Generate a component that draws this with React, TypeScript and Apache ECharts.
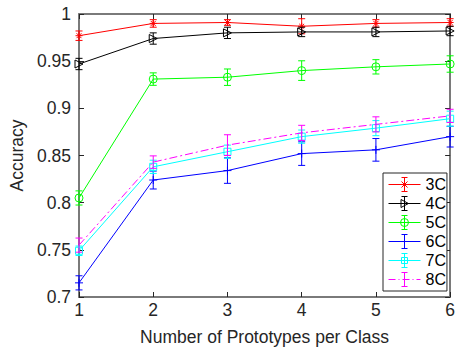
import React, { useEffect, useRef } from "react";
import * as echarts from "echarts";

const xValues = [1, 2, 3, 4, 5, 6];
const seriesNames = ["3C", "4C", "5C", "6C", "7C", "8C"];

const acc3C = [0.977, 0.99, 0.991, 0.987, 0.99, 0.991];
const err3C = [0.005, 0.004, 0.003, 0.008, 0.004, 0.004];
const acc4C = [0.947, 0.974, 0.98, 0.981, 0.981, 0.982];
const err4C = [0.006, 0.006, 0.006, 0.005, 0.005, 0.005];
const acc5C = [0.805, 0.931, 0.933, 0.94, 0.944, 0.947];
const err5C = [0.0075, 0.0066, 0.0087, 0.0104, 0.0076, 0.0087];
const acc6C = [0.715, 0.824, 0.834, 0.852, 0.856, 0.87];
const err6C = [0.0075, 0.0095, 0.0135, 0.0125, 0.012, 0.011];
const acc7C = [0.749, 0.838, 0.854, 0.87, 0.879, 0.889];
const err7C = [0.005, 0.007, 0.007, 0.007, 0.008, 0.008];
const acc8C = [0.755, 0.843, 0.861, 0.874, 0.883, 0.892];
const err8C = [0.0075, 0.0066, 0.011, 0.008, 0.008, 0.007];

const accAll = [acc3C, acc4C, acc5C, acc6C, acc7C, acc8C];
const errAll = [err3C, err4C, err5C, err6C, err7C, err8C];
const colors = ["#ff0000", "#000000", "#00ff00", "#0000ff", "#00ffff", "#ff00ff"];

const markerPaths = [
  "path://M0,5 L10,5 M5,0 L5,10 M1.5,1.5 L8.5,8.5 M8.5,1.5 L1.5,8.5",
  "path://M0,0 L10,5 L0,10 Z",
  "path://M10,5 A5,5 0 1 1 0,5 A5,5 0 1 1 10,5 Z",
  "path://M0,5 L10,5 M5,0 L5,10",
  "path://M0,0 L10,0 L10,10 L0,10 Z",
  "none",
];
const markerSizes = [7, 8, 8, 8, 7, 0];

const barPart = "M16,1 L16,15 M13,1 L19,1 M13,15 L19,15";
const legendIcons = [
  "path://M0,8 L32,8 " + barPart + " M13,5 L19,11 M19,5 L13,11",
  "path://M0,8 L32,8 " + barPart + " M12.5,4 L20,8 L12.5,12 Z",
  "path://M0,8 L32,8 " + barPart + " M20,8 A4,4 0 1 1 12,8 A4,4 0 1 1 20,8 Z",
  "path://M0,8 L32,8 " + barPart,
  "path://M0,8 L32,8 " + barPart + " M13,5 L19,5 L19,11 L13,11 Z",
  "path://M0,8 L7,8 M10,8 L11,8 M14,8 L21,8 M24,8 L25,8 M28,8 L32,8 " + barPart,
];

const FONT = "Liberation Sans, Arial, Helvetica, sans-serif";
const AXIS_COLOR = "#262626";
const BOX_COLOR = "#7a7a7a";

export default function App() {
  const ref = useRef<HTMLDivElement>(null);

  useEffect(() => {
    if (!ref.current) return;
    const chart = echarts.init(ref.current, undefined, { renderer: "svg" });

    const series: any[] = [];
    seriesNames.forEach((name, i) => {
      const col = colors[i];
      series.push({
        name,
        type: "line",
        data: xValues.map((x, j) => [x, accAll[i][j]]),
        symbol: markerPaths[i],
        symbolSize: markerSizes[i],
        showSymbol: markerPaths[i] !== "none",
        lineStyle: {
          color: col,
          width: 1,
          type: i === 5 ? [8, 3, 2, 3] : "solid",
        },
        itemStyle: { color: "none", borderColor: col, borderWidth: 1 },
        z: 2 + i,
        silent: true,
      });
      series.push({
        name: name + "-err",
        type: "custom",
        data: xValues.map((x, j) => [x, accAll[i][j], errAll[i][j]]),
        encode: { x: 0, y: 1 },
        z: 2 + i,
        silent: true,
        renderItem: (params: any, api: any) => {
          const x = api.value(0);
          const y = api.value(1);
          const e = api.value(2);
          const top = api.coord([x, y + e]);
          const bot = api.coord([x, y - e]);
          const hw = 3.5;
          const style = { stroke: col, lineWidth: 1, fill: "none" };
          return {
            type: "group",
            children: [
              { type: "line", shape: { x1: top[0], y1: top[1], x2: bot[0], y2: bot[1] }, style },
              { type: "line", shape: { x1: top[0] - hw, y1: top[1], x2: top[0] + hw, y2: top[1] }, style },
              { type: "line", shape: { x1: bot[0] - hw, y1: bot[1], x2: bot[0] + hw, y2: bot[1] }, style },
            ],
          };
        },
      });
    });

    const tickStyle = { color: AXIS_COLOR, width: 1 };
    const boxLine = { show: true, lineStyle: { color: BOX_COLOR, width: 2 } };

    chart.setOption({
      animation: false,
      backgroundColor: "#ffffff",
      grid: { left: 79, right: 7, top: 14, bottom: 49, containLabel: false },
      legend: {
        orient: "vertical",
        left: 383,
        top: 173,
        padding: [2, 1, 2, 3],
        itemGap: 0,
        itemWidth: 32,
        itemHeight: 16,
        backgroundColor: "#ffffff",
        borderColor: AXIS_COLOR,
        borderWidth: 1,
        selectedMode: false,
        textStyle: { fontSize: 16, color: "#000", fontFamily: FONT, lineHeight: 18.8 },
        data: seriesNames.map((n, i) => ({
          name: n,
          icon: legendIcons[i],
          itemStyle: { color: "none", borderColor: colors[i], borderWidth: 1 },
        })),
      },
      xAxis: [
        {
          type: "value",
          min: 1,
          max: 6,
          interval: 1,
          position: "bottom",
          axisLine: boxLine,
          axisTick: { show: true, inside: true, length: 5, lineStyle: tickStyle },
          axisLabel: { fontSize: 17.5, color: AXIS_COLOR, fontFamily: FONT, margin: 4 },
          splitLine: { show: false },
          name: "Number of Prototypes per Class",
          nameLocation: "middle",
          nameGap: 31,
          nameTextStyle: { fontSize: 17.5, color: AXIS_COLOR, fontFamily: FONT },
        },
        {
          type: "value",
          min: 1,
          max: 6,
          interval: 1,
          position: "top",
          axisLine: boxLine,
          axisTick: { show: true, inside: true, length: 5, lineStyle: tickStyle },
          axisLabel: { show: false },
          splitLine: { show: false },
        },
      ],
      yAxis: [
        {
          type: "value",
          min: 0.7,
          max: 1,
          interval: 0.05,
          position: "left",
          axisLine: boxLine,
          axisTick: { show: true, inside: true, length: 5, lineStyle: tickStyle },
          axisLabel: { fontSize: 17.5, color: AXIS_COLOR, fontFamily: FONT, margin: 8 },
          splitLine: { show: false },
          name: "Accuracy",
          nameLocation: "middle",
          nameGap: 41,
          nameTextStyle: { fontSize: 17.5, color: AXIS_COLOR, fontFamily: FONT },
        },
        {
          type: "value",
          min: 0.7,
          max: 1,
          interval: 0.05,
          position: "right",
          axisLine: boxLine,
          axisTick: { show: true, inside: true, length: 5, lineStyle: tickStyle },
          axisLabel: { show: false },
          splitLine: { show: false },
        },
      ],
      series,
    });

    return () => chart.dispose();
  }, []);

  return (
    <div
      ref={ref}
      style={{ position: "fixed", left: 0, top: 0, width: 458, height: 351 }}
    />
  );
}
